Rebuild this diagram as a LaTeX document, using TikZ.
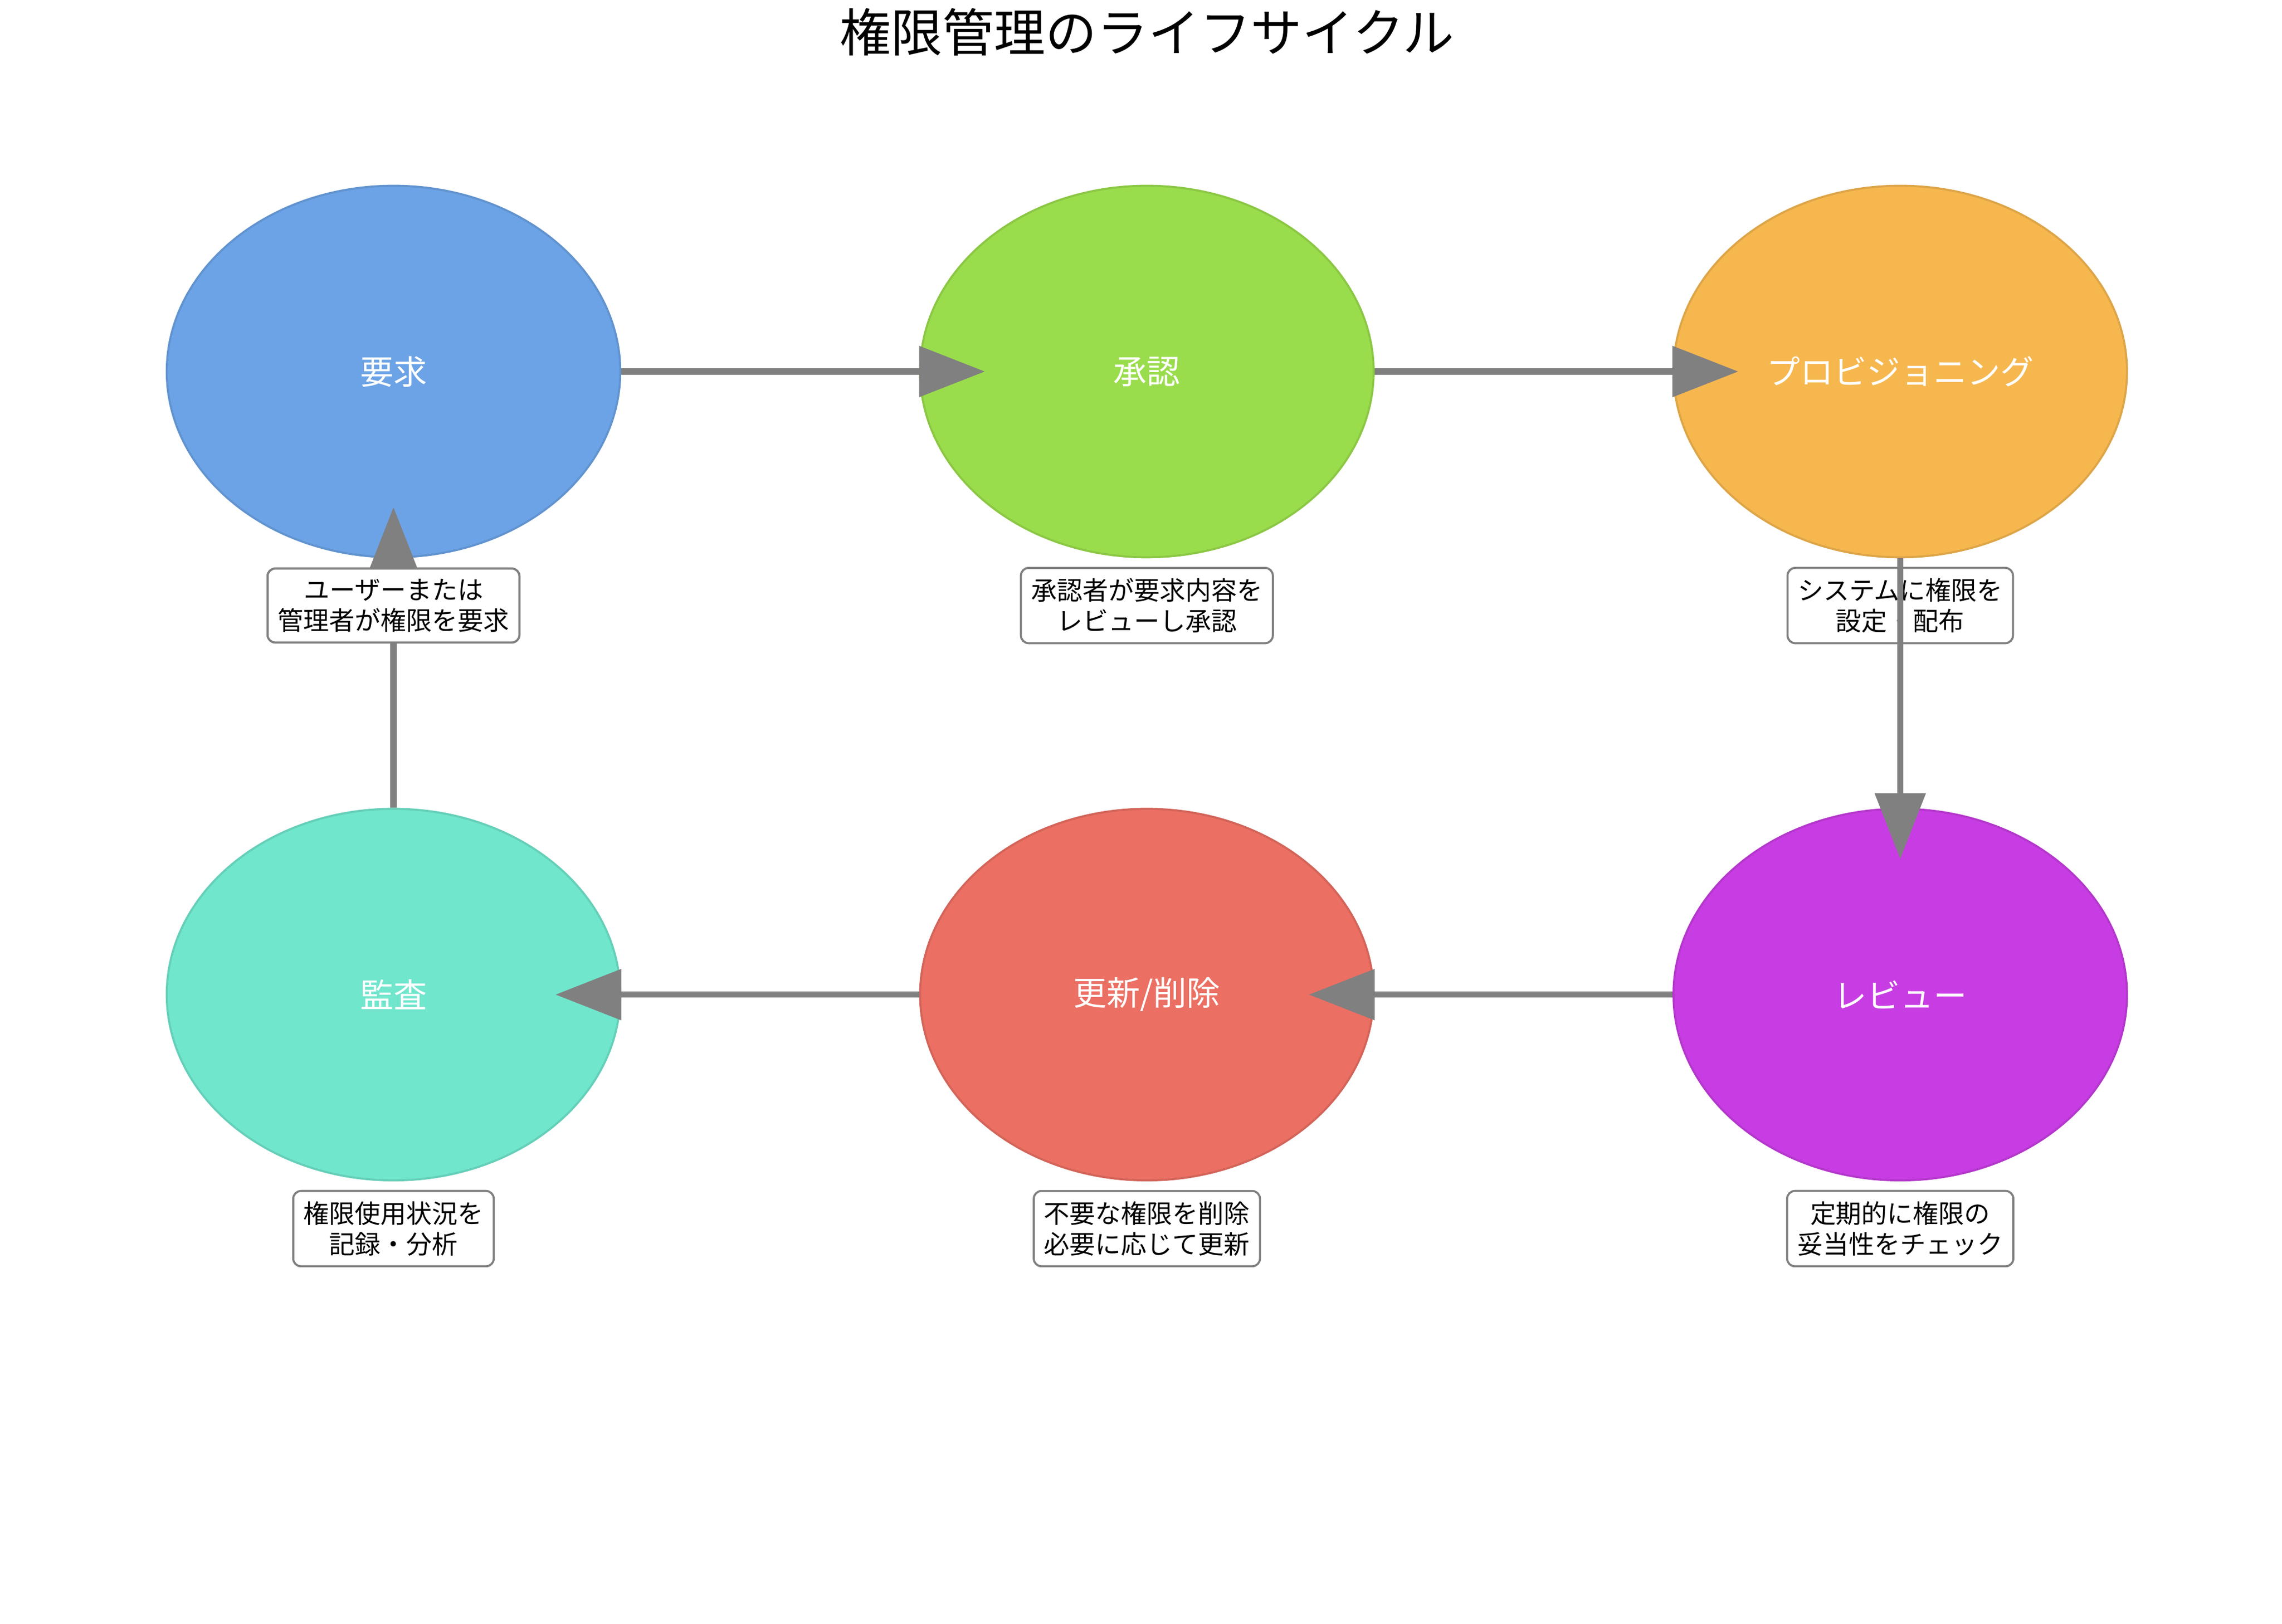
\documentclass[tikz,border=0pt]{standalone}
\usepackage{fontspec}
\setmainfont{Noto Sans CJK JP}
\usetikzlibrary{shapes.geometric,arrows.meta}

\definecolor{reqc}{HTML}{6CA3E6}
\definecolor{appc}{HTML}{9ADD4C}
\definecolor{proc}{HTML}{F6B74F}
\definecolor{revc}{HTML}{C83DE3}
\definecolor{updc}{HTML}{EB6F63}
\definecolor{audc}{HTML}{70E6CC}

\begin{document}
\begin{tikzpicture}
  \tikzset{
    phase/.style = {
      shape = ellipse,
      minimum width = 3.1cm,
      minimum height = 2.54cm,
      draw = #1!90!black,
      fill = #1,
      text = white,
      font = \fontsize{6.5}{8}\selectfont},
    note/.style = {
      draw = gray,
      fill = white,
      rounded corners = 1.5pt,
      align = center,
      inner sep = 2pt,
      font = \fontsize{5}{6}\selectfont},
    flow/.style = {
      draw = gray,
      line width = 1.2pt,
      -{Triangle[length=0.45cm,width=0.34cm]}}}
  \useasboundingbox (0,0) rectangle (15.6,11.1);
  \node (title) at (7.84,10.88) {\fontsize{10}{12}\selectfont 権限管理のライフサイクル};
  % phases
  \node[phase=reqc] (req) at (2.69,8.56)  {要求};
  \node[phase=appc] (app) at (7.84,8.56)  {承認};
  \node[phase=proc] (pro) at (12.99,8.56) {プロビジョニング};
  \node[phase=revc] (rev) at (12.99,4.30) {レビュー};
  \node[phase=updc] (upd) at (7.84,4.30)  {更新/削除};
  \node[phase=audc] (aud) at (2.69,4.30)  {監査};
  % notes
  \node[note] (reqn) at (2.69,6.96)  {ユーザーまたは\\管理者が権限を要求};
  \node[note] (appn) at (7.84,6.96)  {承認者が要求内容を\\レビューし承認};
  \node[note] (pron) at (12.99,6.96) {システムに権限を\\設定・配布};
  \node[note] (revn) at (12.99,2.70) {定期的に権限の\\妥当性をチェック};
  \node[note] (updn) at (7.84,2.70)  {不要な権限を削除\\必要に応じて更新};
  \node[note] (audn) at (2.69,2.70)  {権限使用状況を\\記録・分析};
  % arrows
  \coordinate (appin) at ([xshift=0.45cm]app.west);
  \coordinate (proin) at ([xshift=0.45cm]pro.west);
  \coordinate (revin) at ([yshift=-0.35cm]rev.north);
  \coordinate (updin) at ([xshift=-0.45cm]upd.east);
  \coordinate (audin) at ([xshift=-0.45cm]aud.east);
  \coordinate (reqin) at ([yshift=0.35cm]req.south);
  \draw[flow] (req.east) -- (appin);
  \draw[flow] (app.east) -- (proin);
  \draw[flow] (pro.south) -- (revin);
  \draw[flow] (rev.west) -- (updin);
  \draw[flow] (upd.west) -- (audin);
  \draw[flow] (aud.north) -- (reqin);
  \node[note] at (reqn) {ユーザーまたは\\管理者が権限を要求};
\end{tikzpicture}
\end{document}
